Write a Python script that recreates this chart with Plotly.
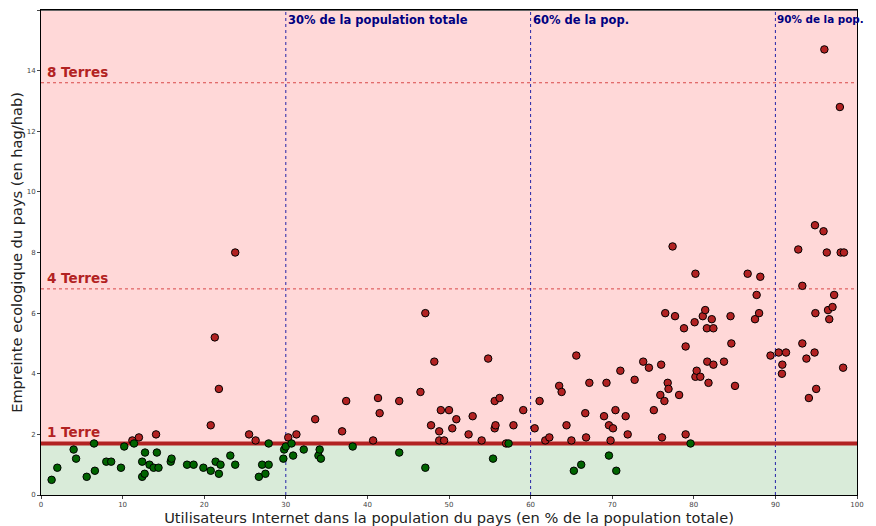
import plotly.graph_objects as go

# Countries above the biocapacity threshold (red)
red_x = [11.2, 12.0, 14.1, 20.8, 25.5, 26.3, 30.3, 31.3, 33.6, 23.8, 21.3, 21.8,
         36.9, 37.4, 40.7, 41.3, 41.5, 43.9, 46.5, 47.1, 48.2, 47.8, 48.8, 48.8,
         49.0, 49.4, 50.0, 50.4, 50.9, 52.4, 52.9, 54.0, 54.8, 55.6, 55.7, 55.6,
         56.2, 57.0, 57.9, 59.1, 60.5, 61.1, 61.8, 62.3, 63.5, 63.8, 64.4, 65.0,
         65.6, 66.7, 66.8, 67.2, 69.0, 69.3, 69.6, 69.8, 70.1, 70.4, 71.0, 71.65,
         71.9, 72.75, 73.8, 74.5, 75.1, 76.0, 75.9, 76.1, 76.4, 76.5, 76.8, 76.9,
         77.4, 77.7, 78.2, 78.8, 79.0, 79.0, 80.2, 80.1, 80.2, 80.35, 80.8, 81.1,
         81.4, 81.6, 81.65, 81.8, 82.2, 82.4, 82.4, 83.7, 84.5, 84.6, 85.05, 86.6,
         87.5, 87.7, 88.0, 88.15, 89.4, 90.4, 90.8, 90.85, 91.3, 92.8, 93.3, 93.3,
         93.8, 94.1, 94.8, 94.9, 95.0, 95.9, 96.3, 96.45, 96.6, 97.0, 97.2, 98.0,
         98.4, 98.3, 96.0, 97.9, 94.85]
red_y = [1.8, 1.9, 2.0, 2.3, 2.0, 1.8, 1.9, 2.0, 2.5, 8.0, 5.2, 3.5,
         2.1, 3.1, 1.8, 3.2, 2.7, 3.1, 3.4, 6.0, 4.4, 2.3, 2.1, 1.8,
         2.8, 1.8, 2.8, 2.2, 2.5, 2.0, 2.6, 1.8, 4.5, 2.2, 2.3, 3.1,
         3.2, 1.7, 2.3, 2.8, 2.2, 3.1, 1.8, 1.9, 3.6, 3.4, 2.3, 1.8,
         4.6, 2.7, 1.9, 3.7, 2.6, 3.7, 2.3, 1.8, 2.2, 2.8, 4.1, 2.6,
         2.0, 3.8, 4.4, 4.2, 2.8, 4.3, 3.3, 1.9, 3.1, 6.0, 3.7, 3.5,
         8.2, 5.9, 3.3, 5.5, 4.9, 2.0, 7.3, 5.7, 3.9, 4.1, 3.9, 5.9,
         6.1, 5.5, 4.4, 3.7, 5.8, 4.3, 5.5, 4.4, 5.9, 5.0, 3.6, 7.3,
         5.8, 6.6, 6.0, 7.2, 4.6, 4.7, 4.0, 4.3, 4.7, 8.1, 5.0, 6.9,
         4.5, 3.2, 4.7, 6.0, 3.5, 8.7, 8.0, 6.1, 5.8, 6.2, 6.6, 8.0,
         8.0, 4.2, 14.7, 12.8, 8.9]

# Countries below the biocapacity threshold (green)
green_x = [1.3, 2.0, 4.0, 4.3, 5.6, 6.5, 6.6, 8.0, 8.6, 9.8, 10.2, 11.4, 12.4,
           12.4, 12.7, 12.75, 13.3, 13.8, 14.2, 14.4, 15.9, 16.0, 17.9, 18.7,
           19.9, 20.8, 21.4, 21.8, 22.0, 23.2, 23.8, 26.7, 27.1, 27.5, 27.9,
           27.9, 29.7, 29.8, 30.0, 30.7, 30.9, 32.2, 34.0, 34.15, 34.3, 38.2,
           43.9, 47.1, 55.4, 57.3, 65.3, 66.2, 69.6, 70.5, 79.6]
green_y = [0.5, 0.9, 1.5, 1.2, 0.6, 1.7, 0.8, 1.1, 1.1, 0.9, 1.6, 1.7, 1.1,
           0.6, 0.7, 1.4, 1.0, 0.9, 1.4, 0.9, 1.1, 1.2, 1.0, 1.0,
           0.9, 0.8, 1.1, 0.7, 1.0, 1.3, 1.0, 0.6, 1.0, 0.7, 1.0,
           1.7, 1.2, 1.5, 1.6, 1.7, 1.3, 1.5, 1.3, 1.5, 1.2, 1.6,
           1.4, 0.9, 1.2, 1.7, 0.8, 1.0, 1.3, 0.8, 1.7]

earth = 1.7
earth_levels = [1, 4, 8]
earth_labels = ["1 Terre", "4 Terres", "8 Terres"]
pop_levels = [30, 60, 90]
pop_labels = ["30% de la population totale", "60% de la pop.", "90% de la pop."]
pop_label_sizes = [11.5, 11.5, 10.4]
x_ticks = list(range(0, 101, 10))
y_ticks = list(range(0, 17, 2))

RED = "#b22222"
NAVY = "#000080"

fig = go.Figure()

shapes = [
    dict(type="rect", xref="x", yref="y", x0=0, x1=100, y0=earth, y1=16,
         fillcolor="#ffd8d8", line_width=0, layer="below"),
    dict(type="rect", xref="x", yref="y", x0=0, x1=100, y0=0, y1=earth,
         fillcolor="#d9ebd9", line_width=0, layer="below"),
]
for k in earth_levels[1:]:
    shapes.append(dict(type="line", xref="x", yref="y", x0=0, x1=100,
                       y0=k * earth, y1=k * earth,
                       line=dict(color="#d84848", width=1, dash="dot"), layer="below"))
for p in pop_levels:
    shapes.append(dict(type="line", xref="x", yref="y", x0=p, x1=p, y0=0, y1=16,
                       line=dict(color="#2424a8", width=1, dash="dot"), layer="below"))
shapes.append(dict(type="line", xref="x", yref="y", x0=0, x1=100, y0=earth, y1=earth,
                   line=dict(color=RED, width=4), layer="below"))
shapes.append(dict(type="line", xref="x", yref="y", x0=0, x1=100, y0=16, y1=16,
                   line=dict(color="#666666", width=2)))

fig.add_trace(go.Scatter(
    x=red_x, y=red_y, mode="markers",
    marker=dict(color=RED, size=7.5, line=dict(color="black", width=1)),
    showlegend=False, cliponaxis=False))
fig.add_trace(go.Scatter(
    x=green_x, y=green_y, mode="markers",
    marker=dict(color="#006400", size=7.5, line=dict(color="black", width=1)),
    showlegend=False, cliponaxis=False))

annotations = []
for k, lab in zip(earth_levels, earth_labels):
    annotations.append(dict(x=0.5, y=k * earth, xref="x", yref="y", text=lab,
                            showarrow=False, xanchor="left", yanchor="bottom", yshift=1,
                            font=dict(family="DejaVu Sans", size=13.5, color=RED, weight="bold")))
for p, lab, fs in zip(pop_levels, pop_labels, pop_label_sizes):
    annotations.append(dict(x=p, y=16, xref="x", yref="y", text=lab,
                            showarrow=False, xanchor="left", yanchor="top", xshift=0, yshift=-1,
                            font=dict(family="DejaVu Sans", size=fs, color=NAVY, weight="bold")))

# The page body has an 8px default margin; margins compensate for that offset.
fig.update_layout(
    width=876, height=526,
    margin=dict(l=33, r=27, t=2, b=39),
    paper_bgcolor="white", plot_bgcolor="white",
    shapes=shapes, annotations=annotations,
    font=dict(family="DejaVu Sans"),
)
fig.update_xaxes(range=[0, 100], tickvals=x_ticks, ticks="outside", ticklen=3,
                 tickfont=dict(size=7, color="#444"), showgrid=False, zeroline=False,
                 showline=True, linecolor="black", linewidth=1, mirror=True, automargin=False,
                 title=dict(text="Utilisateurs Internet dans la population du pays (en % de la population totale)",
                            font=dict(size=14.6, color="#222"), standoff=4))
fig.update_yaxes(range=[0, 16], tickvals=y_ticks, ticks="outside", ticklen=3,
                 tickfont=dict(size=7, color="#444"), showgrid=False, zeroline=False,
                 showline=True, linecolor="black", linewidth=1, mirror=True, automargin=False,
                 title=dict(text="Empreinte ecologique du pays (en hag/hab)",
                            font=dict(size=14.6, color="#222"), standoff=6))

fig.write_html("out.html")
